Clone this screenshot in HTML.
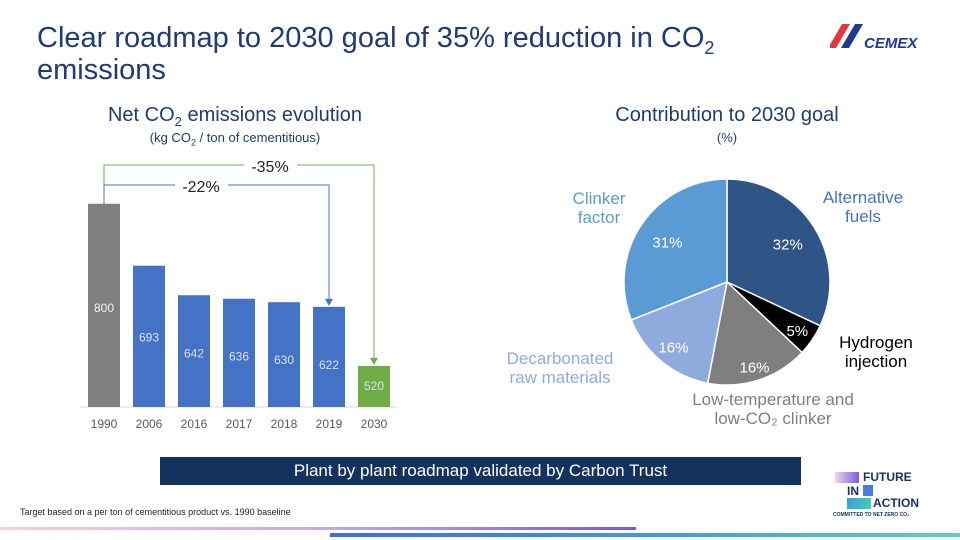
<!DOCTYPE html>
<html><head><meta charset="utf-8"><style>
body{margin:0;width:960px;height:540px;background:#fff;font-family:"Liberation Sans",sans-serif;overflow:hidden;position:relative}
.t{position:absolute;white-space:nowrap}
sub{line-height:0}
</style></head><body>
<div class="t" style="left:37px;top:22px;font-size:29px;line-height:32px;color:#1f3b73">Clear roadmap to 2030 goal of 35% reduction in CO<sub style="font-size:18px">2</sub><br>emissions</div>
<svg style="position:absolute;left:830px;top:24px" width="125" height="30" viewBox="0 0 125 30">
<polygon points="12,0 20,0 6,24 -2,24" fill="#e03a3e"/><polygon points="25,0 33,0 19,24 11,24" fill="#1f3b93"/>
<text x="34" y="24" font-size="15" font-weight="bold" font-style="italic" fill="#1f3b93" font-family="Liberation Sans">CEMEX</text></svg>

<div class="t" style="left:0;width:470px;text-align:center;top:104px;font-size:20px;color:#1f3b73">Net CO<sub style="font-size:13px">2</sub> emissions evolution</div>
<div class="t" style="left:0;width:470px;text-align:center;top:130px;font-size:13px;color:#1f3b73">(kg CO<sub style="font-size:9px">2</sub> / ton of cementitious)</div>
<div class="t" style="left:492px;width:470px;text-align:center;top:104px;font-size:20px;color:#1f3b73">Contribution to 2030 goal</div>
<div class="t" style="left:492px;width:470px;text-align:center;top:130px;font-size:13px;color:#1f3b73">(%)</div>

<svg id="bars" style="position:absolute;left:0;top:0" width="480" height="450"></svg>
<svg id="pie" style="position:absolute;left:480px;top:0" width="480" height="450"></svg>

<div style="position:absolute;left:160px;top:457px;width:641px;height:28px;background:#13325e;color:#fff;font-size:17px;line-height:28px;text-align:center">Plant by plant roadmap validated by Carbon Trust</div>
<div class="t" style="left:20px;top:507px;font-size:9px;color:#222">Target based on a per ton of cementitious product vs. 1990 baseline</div>

<div style="position:absolute;left:833px;top:470px;width:100px;height:50px">
<div style="position:absolute;left:2px;top:2px;width:24px;height:11px;background:linear-gradient(90deg,#f2d6e6,#7a5de0)"></div>
<div class="t" style="left:30px;top:0;font-size:12px;font-weight:bold;color:#13325e">FUTURE</div>
<div class="t" style="left:14px;top:14px;font-size:12px;font-weight:bold;color:#13325e">IN</div>
<div style="position:absolute;left:30px;top:15px;width:10px;height:11px;background:#4a7be0"></div>
<div style="position:absolute;left:14px;top:28px;width:24px;height:11px;background:linear-gradient(90deg,#3aa0e0,#4cc9b0)"></div>
<div class="t" style="left:40px;top:26px;font-size:12px;font-weight:bold;color:#13325e">ACTION</div>
<div class="t" style="left:0;top:42px;font-size:5px;font-weight:bold;color:#13325e">COMMITTED TO NET ZERO CO₂</div></div>

<div style="position:absolute;left:0;top:527px;width:636px;height:3px;background:linear-gradient(90deg,#f6cfe0,#c9a8ea,#7b57dc)"></div>
<div style="position:absolute;left:330px;top:533px;width:630px;height:4px;background:linear-gradient(90deg,#3b6fd8,#3a9ae0,#5fd0c0)"></div>

<script>
const years=['1990','2006','2016','2017','2018','2019','2030'];
const values=[800,693,642,636,630,622,520];
const colors=['#808080','#4472c4','#4472c4','#4472c4','#4472c4','#4472c4','#70ad47'];
const slices=[32,5,16,16,31];
const sliceColors=['#2f5587','#000000','#7f7f7f','#8faadc','#5b9bd5'];
const NS='http://www.w3.org/2000/svg';
function mk(p,t,a){const e=document.createElementNS(NS,t);for(const k in a)e.setAttribute(k,a[k]);p.appendChild(e);return e;}
const bs=document.getElementById('bars');
const base=407,k=0.579,vmin=449;
const xc=i=>104+i*45;
const yv=v=>base-(v-vmin)*k;
mk(bs,'line',{x1:80,x2:398,y1:base,y2:base,stroke:'#d9d9d9','stroke-width':1});
values.forEach((v,i)=>{
 const r=mk(bs,'rect',{x:xc(i)-16,y:yv(v),width:32,height:base-yv(v),fill:colors[i]});
 
 
 const t=mk(bs,'text',{x:xc(i),y:yv(v)+(i==0?108:i==6?24:i==1?76:62),'text-anchor':'middle','font-size':12,fill:i==0?'#f2f2f2':'#d9e2f3'});
 t.textContent=v;
 
 
 const l=mk(bs,'text',{x:xc(i),y:428,'text-anchor':'middle','font-size':12,fill:'#595959'});
 l.textContent=years[i];
 
 
});
const y0=yv(values[0]);
mk(bs,'polyline',{points:`${xc(0)},${y0} ${xc(0)},165 244,165`,fill:'none',stroke:'#70ad47','stroke-width':1});
mk(bs,'polyline',{points:`297,165 ${xc(6)},165 ${xc(6)},${yv(values[6])-4}`,fill:'none',stroke:'#70ad47','stroke-width':1});
mk(bs,'polyline',{points:`${xc(0)},${y0} ${xc(0)},185 175,185`,fill:'none',stroke:'#4472c4','stroke-width':1});
mk(bs,'polyline',{points:`228,185 ${xc(5)},185 ${xc(5)},${yv(values[5])-4}`,fill:'none',stroke:'#4472c4','stroke-width':1});
mk(bs,'polygon',{points:`${xc(6)-4},${yv(values[6])-8} ${xc(6)+4},${yv(values[6])-8} ${xc(6)},${yv(values[6])-1}`,fill:'#70ad47'});
mk(bs,'polygon',{points:`${xc(5)-4},${yv(values[5])-8} ${xc(5)+4},${yv(values[5])-8} ${xc(5)},${yv(values[5])-1}`,fill:'#4472c4'});
let a=mk(bs,'text',{x:270,y:172,'text-anchor':'middle','font-size':16,fill:'#222'});a.textContent='-35%';


a=mk(bs,'text',{x:201,y:192,'text-anchor':'middle','font-size':16,fill:'#222'});a.textContent='-22%';



const ps=document.getElementById('pie');
const cx=247,cy=282,R=103;
const tot=slices.reduce((s,v)=>s+v,0);
let acc=0;
const radii=[72,85,89,84,72];
slices.forEach((v,i)=>{
 const a0=acc/tot*2*Math.PI;acc+=v;const a1=acc/tot*2*Math.PI;
 const p=(a)=>[cx+R*Math.sin(a),cy-R*Math.cos(a)];
 const [x0,y0]=p(a0),[x1,y1]=p(a1);
 const s=mk(ps,'path',{d:`M${cx},${cy}L${x0},${y0}A${R},${R} 0 ${a1-a0>Math.PI?1:0} 1 ${x1},${y1}Z`,fill:sliceColors[i],stroke:'#fff','stroke-width':1.5});
 
 
 const am=(a0+a1)/2,rr=radii[i];
 const t=mk(ps,'text',{x:cx+rr*Math.sin(am),y:cy-rr*Math.cos(am)+6,'text-anchor':'middle','font-size':15,fill:'#fff'});
 t.textContent=v+'%';
 
 
});
const cats=[['Alternative','fuels',383,203,'#4472c4'],['Hydrogen','injection',396,348,'#000'],['Low-temperature and','low-CO₂ clinker',293,405,'#7f7f7f'],['Decarbonated','raw materials',80,364,'#8faadc'],['Clinker','factor',119,204,'#5b9bd5']];
cats.forEach((c,i)=>{
 const t=mk(ps,'text',{x:c[2],y:c[3],'text-anchor':'middle','font-size':17,fill:c[4]});
 
 
 const s1=mk(t,'tspan',{x:c[2],dy:0});s1.textContent=c[0];
 const s2=mk(t,'tspan',{x:c[2],dy:19});s2.textContent=c[1];
});
</script>
</body></html>
